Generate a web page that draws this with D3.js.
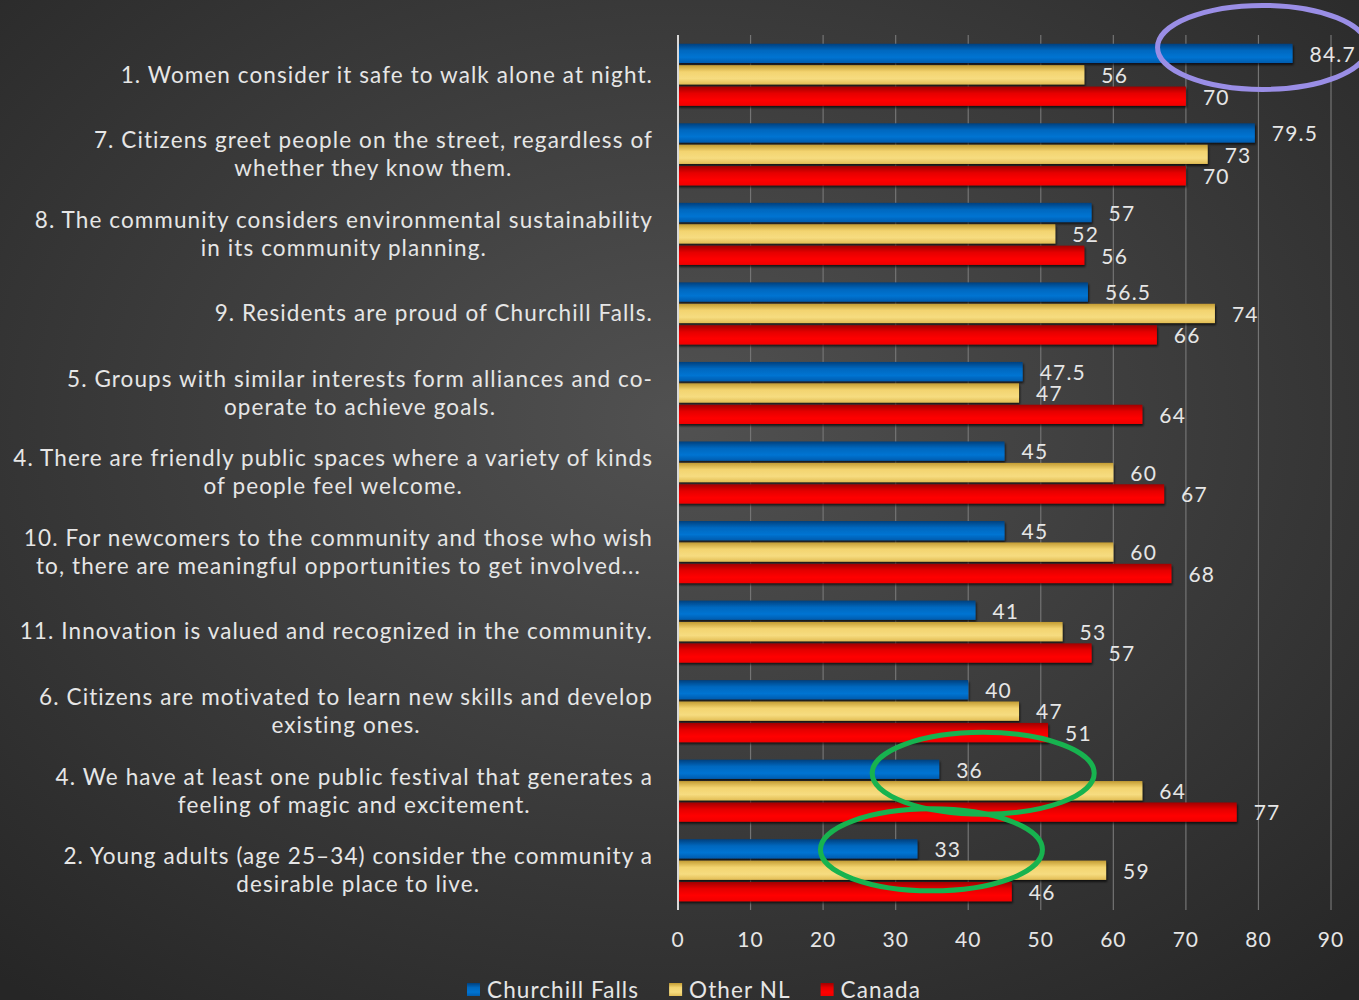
<!DOCTYPE html>
<html>
<head>
<meta charset="utf-8">
<script src="https://cdn.jsdelivr.net/npm/d3@7"></script>
<style>
  html, body { margin: 0; padding: 0; background: #333; }
  svg { display: block; }
</style>
</head>
<body>
<div id="chart"></div>
<script>
const labels = [
  ['1. Women consider it safe to walk alone at night.'],
  ['7. Citizens greet people on the street, regardless of', 'whether they know them.'],
  ['8. The community considers environmental sustainability', 'in its community planning.'],
  ['9. Residents are proud of Churchill Falls.'],
  ['5. Groups with similar interests form alliances and co-', 'operate to achieve goals.'],
  ['4. There are friendly public spaces where a variety of kinds', 'of people feel welcome.'],
  ['10. For newcomers to the community and those who wish', 'to, there are meaningful opportunities to get involved...'],
  ['11. Innovation is valued and recognized in the community.'],
  ['6. Citizens are motivated to learn new skills and develop', 'existing ones.'],
  ['4. We have at least one public festival that generates a', 'feeling of magic and excitement.'],
  ['2. Young adults (age 25\u201334) consider the community a', 'desirable place to live.']
]
const churchill = [84.7, 79.5, 57, 56.5, 47.5, 45, 45, 41, 40, 36, 33]
const otherNL = [56, 73, 52, 74, 47, 60, 60, 53, 47, 64, 59]
const canada = [70, 70, 56, 66, 64, 67, 68, 57, 51, 77, 46]
const seriesNames = ['Churchill Falls', 'Other NL', 'Canada']
const xTicks = [0, 10, 20, 30, 40, 50, 60, 70, 80, 90]
// circled values: [row, series, colour]
const circled = [[0, 0, '#9a8ee6'], [9, 0, '#17b34f'], [10, 0, '#17b34f']]

const width = 1359
const height = 1000
const font = 'Lato, "Open Sans", sans-serif'
const textColor = '#e6e6e6'

const svg = d3.select('#chart').append('svg')
  .attr('width', width)
  .attr('height', height)

const defs = svg.append('defs')
const bg = defs.append('radialGradient').attr('id', 'bg')
  .attr('cx', '0.5').attr('cy', '0.42').attr('r', '0.75')
bg.append('stop').attr('offset', '0%').attr('stop-color', '#515151')
bg.append('stop').attr('offset', '100%').attr('stop-color', '#262626')

const barColors = [
  ['#00407e', '#0068bf', '#0074d2', '#005cae'],
  ['#c39c33', '#f3d470', '#f6dc80', '#e2bd55'],
  ['#a00000', '#e50000', '#ff0000', '#f00000']
]
barColors.forEach((c, i) => {
  const g = defs.append('linearGradient').attr('id', 'bar' + i)
    .attr('x1', 0).attr('y1', 0).attr('x2', 0).attr('y2', 1)
  g.append('stop').attr('offset', '0%').attr('stop-color', c[0])
  g.append('stop').attr('offset', '35%').attr('stop-color', c[1])
  g.append('stop').attr('offset', '70%').attr('stop-color', c[2])
  g.append('stop').attr('offset', '100%').attr('stop-color', c[3])
})
const shadow = defs.append('filter').attr('id', 'shadow')
  .attr('x', '-5%').attr('y', '-20%').attr('width', '110%').attr('height', '160%')
shadow.append('feDropShadow').attr('dx', 1).attr('dy', 2).attr('stdDeviation', 1.2)
  .attr('flood-color', '#000').attr('flood-opacity', 0.7)

svg.append('rect').attr('width', width).attr('height', height).attr('fill', 'url(#bg)')

const x = d3.scaleLinear().domain([0, 90]).range([678, 1331])
const y = d3.scaleBand().domain(d3.range(labels.length)).range([35, 910])
  .paddingInner(0.22).paddingOuter(0.11)
const inner = d3.scaleBand().domain([0, 1, 2]).range([0, y.bandwidth()]).paddingInner(0.1)

// gridlines
svg.append('g')
  .selectAll('line')
  .data(xTicks.slice(1))
  .join('line')
  .attr('x1', d => x(d)).attr('x2', d => x(d))
  .attr('y1', 35).attr('y2', 910)
  .attr('stroke', '#747474')
  .attr('stroke-width', 1.2)

// bars
const seriesData = [churchill, otherNL, canada]
const groups = svg.append('g')
  .selectAll('g')
  .data(labels.map((l, i) => i))
  .join('g')
  .attr('transform', i => 'translate(0,' + y(i) + ')')

groups.selectAll('rect')
  .data(i => seriesData.map((s, k) => ({ k, v: s[i] })))
  .join('rect')
  .attr('x', x(0))
  .attr('y', d => inner(d.k))
  .attr('width', d => x(d.v) - x(0))
  .attr('height', inner.bandwidth())
  .attr('fill', d => 'url(#bar' + d.k + ')')
  .attr('filter', 'url(#shadow)')

groups.selectAll('text.val')
  .data(i => seriesData.map((s, k) => ({ k, v: s[i] })))
  .join('text')
  .attr('class', 'val')
  .attr('x', d => x(d.v) + 17)
  .attr('y', d => inner(d.k) + inner.bandwidth() / 2 + 1)
  .attr('dy', '0.35em')
  .attr('fill', textColor)
  .attr('font-family', font)
  .attr('font-size', 21)
  .attr('letter-spacing', 1.2)
  .text(d => d.v)

// zero axis line
svg.append('line')
  .attr('x1', x(0)).attr('x2', x(0))
  .attr('y1', 35).attr('y2', 910)
  .attr('stroke', '#d8d8d8')
  .attr('stroke-width', 2)

// x tick labels
svg.append('g')
  .selectAll('text')
  .data(xTicks)
  .join('text')
  .attr('x', d => x(d))
  .attr('y', 940)
  .attr('dy', '0.35em')
  .attr('text-anchor', 'middle')
  .attr('fill', textColor)
  .attr('font-family', font)
  .attr('font-size', 21)
  .attr('letter-spacing', 1)
  .text(d => d)

// category labels: block right-aligned, lines centred within the block
const labelRight = 653
const lineGap = 28
labels.forEach((lines, i) => {
  const g = svg.append('g')
  const cy = y(i) + y.bandwidth() / 2
  const texts = g.selectAll('text')
    .data(lines)
    .join('text')
    .attr('y', (d, j) => cy + (j - (lines.length - 1) / 2) * lineGap)
    .attr('dy', '0.35em')
    .attr('text-anchor', 'middle')
    .attr('fill', textColor)
    .attr('font-family', font)
    .attr('font-size', 22.5)
    .attr('letter-spacing', 1.1)
    .text(d => d)
  let maxW = 0
  texts.each(function() { maxW = Math.max(maxW, this.getComputedTextLength()) })
  texts.attr('x', labelRight - maxW / 2)
})

// legend
const legend = svg.append('g')
let lx = 467
seriesNames.forEach((name, k) => {
  legend.append('rect')
    .attr('x', lx).attr('y', 983)
    .attr('width', 13).attr('height', 13)
    .attr('fill', 'url(#bar' + k + ')')
  const t = legend.append('text')
    .attr('x', lx + 20).attr('y', 990)
    .attr('dy', '0.35em')
    .attr('fill', textColor)
    .attr('font-family', font)
    .attr('font-size', 22.5)
    .attr('letter-spacing', 1.1)
    .text(name)
  lx += 20 + t.node().getComputedTextLength() + 30
})

// annotation ellipses around highlighted values
const offsets = [[-30, -6, 105, 42], [44, 4, 111, 41], [14, 1, 111, 41]]
circled.forEach(([row, k, color], n) => {
  const o = offsets[n]
  svg.append('ellipse')
    .attr('cx', x(seriesData[k][row]) + o[0])
    .attr('cy', y(row) + inner(k) + inner.bandwidth() / 2 + o[1])
    .attr('rx', o[2])
    .attr('ry', o[3])
    .attr('fill', 'none')
    .attr('stroke', color)
    .attr('stroke-width', 5)
})
</script>
</body>
</html>
